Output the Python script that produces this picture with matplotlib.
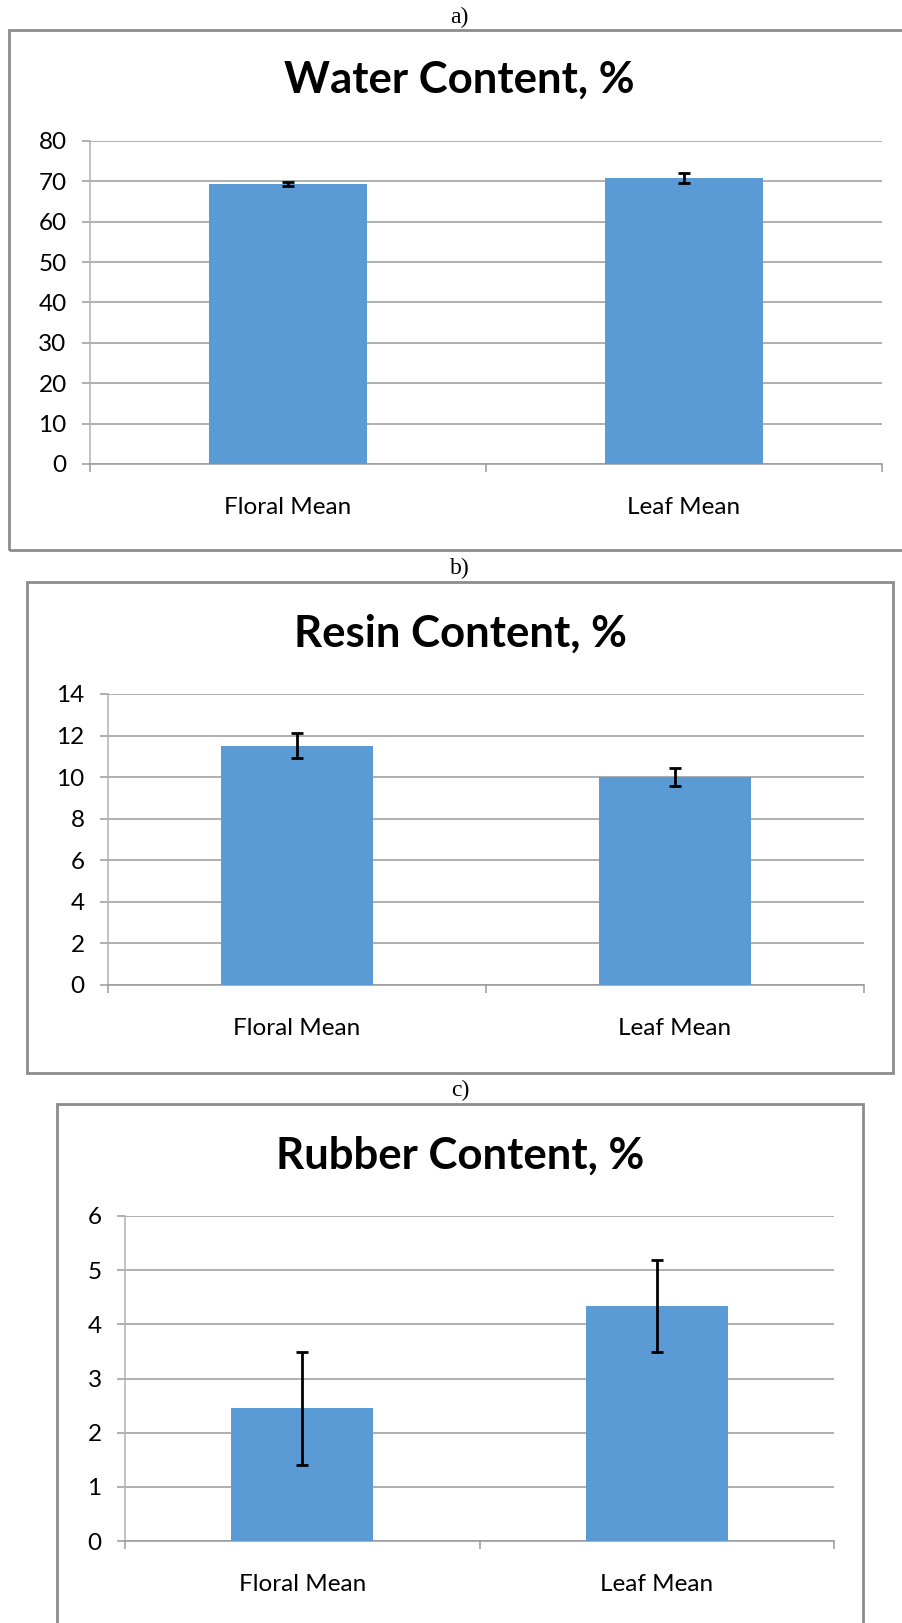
import matplotlib
matplotlib.use("Agg")
import matplotlib.pyplot as plt
from matplotlib.patches import Rectangle
from matplotlib.ticker import MultipleLocator, FixedLocator

# ---- data ----
categories = ["Floral Mean", "Leaf Mean"]
water_mean = [69.3, 70.8]
water_err = [0.55, 1.2]
resin_mean = [11.5, 10.0]
resin_err = [0.6, 0.43]
rubber_mean = [2.45, 4.34]
rubber_err = [1.04, 0.85]
titles = ["Water Content, %", "Resin Content, %", "Rubber Content, %"]
panel_labels = ["a)", "b)", "c)"]

W, H = 902, 1623
fig = plt.figure(figsize=(W / 100, H / 100), dpi=100)

BAR = "#5B9BD5"
GRID = "#9A9A9A"
FRAME = "#8C8C8C"
FONT = ["Lato", "DejaVu Sans"]


def fig_rect(x0, x1, ytop, ybot):
    return [x0 / W, 1 - ybot / H, (x1 - x0) / W, (ybot - ytop) / H]


panels = [
    dict(means=water_mean, errs=water_err, ymax=80, step=10,
         frame=(9, 940, 30, 550), axes=(90, 882, 141, 464),
         label_y=17, title_y=80, cx=459),
    dict(means=resin_mean, errs=resin_err, ymax=14, step=2,
         frame=(27, 893, 582, 1073), axes=(108, 864, 694, 985),
         label_y=568, title_y=634, cx=460),
    dict(means=rubber_mean, errs=rubber_err, ymax=6, step=1,
         frame=(57, 863, 1104, 1700), axes=(125, 834, 1216, 1541),
         label_y=1090, title_y=1156, cx=460),
]

for p, title, plab in zip(panels, titles, panel_labels):
    fx0, fx1, fy0, fy1 = p["frame"]
    fig.add_artist(Rectangle((fx0 / W, 1 - fy1 / H), (fx1 - fx0) / W, (fy1 - fy0) / H,
                             transform=fig.transFigure, fill=False,
                             edgecolor=FRAME, linewidth=2.0, zorder=0))
    fig.text(p["cx"] / W, 1 - p["label_y"] / H, plab, ha="center", va="center",
             fontsize=17, family=["Liberation Serif", "DejaVu Serif"])
    fig.text(p["cx"] / W, 1 - p["title_y"] / H, title, ha="center", va="center",
             fontsize=31.5, fontweight="bold", family=FONT)

    ax = fig.add_axes(fig_rect(*p["axes"]))
    x = list(range(len(categories)))
    ax.bar(x, p["means"], width=0.4, color=BAR, zorder=3)
    ax.errorbar(x, p["means"], yerr=p["errs"], fmt="none", ecolor="black",
                elinewidth=2.0, capsize=4.4, capthick=2.0, zorder=4)
    ax.set_xlim(-0.5, len(categories) - 0.5)
    ax.set_ylim(0, p["ymax"])
    ax.yaxis.set_major_locator(MultipleLocator(p["step"]))
    ax.grid(axis="y", color=GRID, linewidth=1.1, zorder=1)
    ax.set_axisbelow(True)
    for s in ["top", "right"]:
        ax.spines[s].set_visible(False)
    ax.spines["left"].set_color("#B0B0B0")
    ax.spines["left"].set_linewidth(1.1)
    ax.spines["bottom"].set_color(GRID)
    ax.spines["bottom"].set_linewidth(1.1)
    ax.set_xticks(x)
    ax.set_xticklabels(categories, fontsize=17.5, family=FONT)
    ax.tick_params(axis="x", which="major", length=0, pad=24)
    ax.xaxis.set_minor_locator(FixedLocator([-0.5 + i for i in range(len(categories) + 1)]))
    ax.tick_params(axis="x", which="minor", length=5.5, width=1.1, color=GRID)
    ax.tick_params(axis="y", length=5.8, width=1.1, color=GRID, pad=11, labelsize=17.5)
    for t in ax.get_yticklabels():
        t.set_family(FONT)

fig.savefig("out.png", dpi=100)
